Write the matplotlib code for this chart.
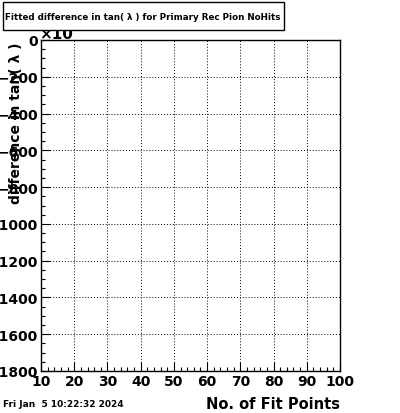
import matplotlib
matplotlib.use("Agg")
import matplotlib.pyplot as plt
from matplotlib.ticker import MultipleLocator
from matplotlib.patches import Rectangle

x_range = [10, 100]
y_range = [-1800, 0]
x_major, x_minor = 10, 2
y_major, y_minor = 200, 50
title = "Fitted difference in tan( λ ) for Primary Rec Pion NoHits"
xlabel = "No. of Fit Points"
ylabel = "difference in tan( λ )"
stamp = "Fri Jan  5 10:22:32 2024"

fig = plt.figure(figsize=(4.0, 4.14), dpi=100)
ax = fig.add_axes([41 / 400, 1 - 372 / 414, 299 / 400, 331 / 414])
ax.set_xlim(*x_range)
ax.set_ylim(*y_range)

ax.xaxis.set_major_locator(MultipleLocator(x_major))
ax.xaxis.set_minor_locator(MultipleLocator(x_minor))
ax.yaxis.set_major_locator(MultipleLocator(y_major))
ax.yaxis.set_minor_locator(MultipleLocator(y_minor))
ax.tick_params(which="both", direction="in", top=False, right=False, color="black")
ax.tick_params(which="major", length=6.5, width=0.8, labelsize=10, pad=2)
ax.tick_params(which="minor", length=3.2, width=0.8)
for lab in ax.get_xticklabels() + ax.get_yticklabels():
    lab.set_fontweight("bold")
ax.grid(True, which="major", color="black", linestyle=(0, (1, 2)), linewidth=0.7)
for s in ax.spines.values():
    s.set_linewidth(1.0)
    s.set_color("black")

fig.text(340 / 400, 1 - 405 / 414, xlabel, ha="right", va="center",
         fontsize=10.5, fontweight="bold")
fig.text(16 / 400, 1 - 123 / 414, ylabel, ha="center", va="center",
         rotation=90, fontsize=10, fontweight="bold")
fig.text(3 / 400, 1 - 405 / 414, stamp, ha="left", va="center",
         fontsize=6.5, fontweight="bold")

# exponent marker, partly hidden by the title box
fig.text(39 / 400, 1 - 42 / 414, "×10", ha="left", va="bottom",
         fontsize=11, fontweight="bold")

fig.patches.append(Rectangle((3 / 400, 1 - 31 / 414), 281 / 400, 28 / 414,
                             transform=fig.transFigure, facecolor="white",
                             edgecolor="black", linewidth=1.0, zorder=5))
fig.text(5 / 400, 1 - 17 / 414, title, ha="left", va="center",
         fontsize=6.3, fontweight="bold", zorder=6)

fig.savefig("out.png", dpi=100)
